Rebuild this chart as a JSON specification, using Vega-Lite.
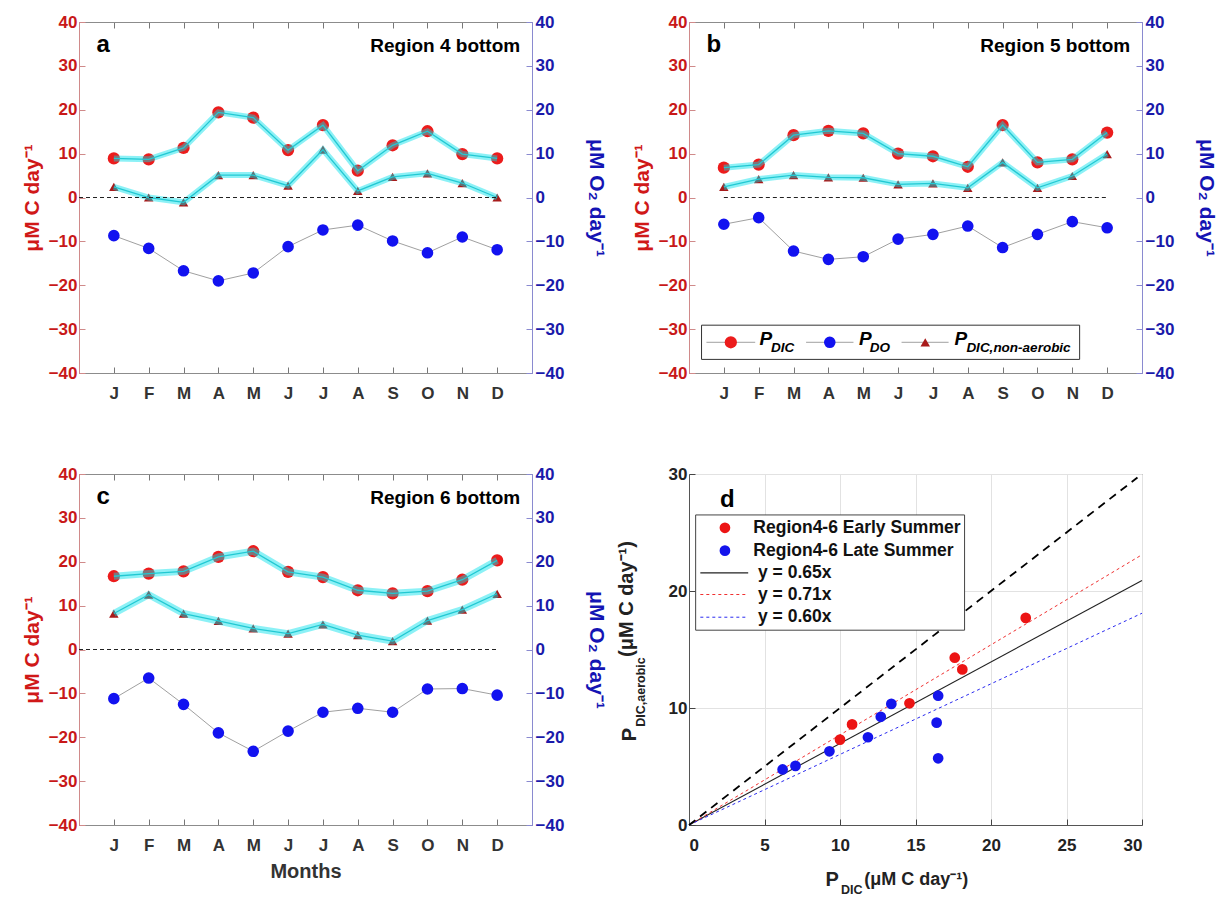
{
  "$schema": "https://vega.github.io/schema/vega-lite/v6.json",
  "background": "white",
  "padding": {"left": 20, "top": 12, "right": 5, "bottom": 5},
  "config": {
    "font": "Liberation Sans",
    "view": {"stroke": "#8c8c8c", "strokeWidth": 1},
    "axis": {"grid": false, "labelFont": "Liberation Sans", "titleFont": "Liberation Sans", "labelFontWeight": "bold", "titleFontWeight": "bold"}
  },
  "datasets": {
    "pa": [
      {"month": 1, "pdic": 8.9, "pdo": -8.7, "pna": 2.4},
      {"month": 2, "pdic": 8.7, "pdo": -11.6, "pna": 0.0},
      {"month": 3, "pdic": 11.3, "pdo": -16.7, "pna": -1.1},
      {"month": 4, "pdic": 19.4, "pdo": -19.0, "pna": 5.1},
      {"month": 5, "pdic": 18.2, "pdo": -17.2, "pna": 5.1},
      {"month": 6, "pdic": 10.8, "pdo": -11.2, "pna": 2.7},
      {"month": 7, "pdic": 16.5, "pdo": -7.4, "pna": 10.9},
      {"month": 8, "pdic": 6.1, "pdo": -6.3, "pna": 1.5},
      {"month": 9, "pdic": 11.9, "pdo": -9.9, "pna": 4.7},
      {"month": 10, "pdic": 15.1, "pdo": -12.6, "pna": 5.5},
      {"month": 11, "pdic": 9.9, "pdo": -9.0, "pna": 3.3},
      {"month": 12, "pdic": 8.9, "pdo": -11.9, "pna": 0.0}
    ],
    "pb": [
      {"month": 1, "pdic": 6.8, "pdo": -6.1, "pna": 2.4},
      {"month": 2, "pdic": 7.5, "pdo": -4.6, "pna": 4.2},
      {"month": 3, "pdic": 14.2, "pdo": -12.2, "pna": 5.1},
      {"month": 4, "pdic": 15.2, "pdo": -14.1, "pna": 4.6},
      {"month": 5, "pdic": 14.6, "pdo": -13.5, "pna": 4.5},
      {"month": 6, "pdic": 10.0, "pdo": -9.5, "pna": 3.0},
      {"month": 7, "pdic": 9.4, "pdo": -8.4, "pna": 3.2},
      {"month": 8, "pdic": 7.0, "pdo": -6.5, "pna": 2.2},
      {"month": 9, "pdic": 16.5, "pdo": -11.4, "pna": 8.0},
      {"month": 10, "pdic": 8.0, "pdo": -8.4, "pna": 2.2},
      {"month": 11, "pdic": 8.7, "pdo": -5.5, "pna": 4.9},
      {"month": 12, "pdic": 14.8, "pdo": -6.9, "pna": 9.9}
    ],
    "pc": [
      {"month": 1, "pdic": 16.7, "pdo": -11.2, "pna": 8.2},
      {"month": 2, "pdic": 17.3, "pdo": -6.5, "pna": 12.5},
      {"month": 3, "pdic": 17.8, "pdo": -12.5, "pna": 8.2},
      {"month": 4, "pdic": 21.1, "pdo": -19.0, "pna": 6.5},
      {"month": 5, "pdic": 22.4, "pdo": -23.2, "pna": 4.8},
      {"month": 6, "pdic": 17.7, "pdo": -18.6, "pna": 3.6},
      {"month": 7, "pdic": 16.5, "pdo": -14.3, "pna": 5.7},
      {"month": 8, "pdic": 13.5, "pdo": -13.4, "pna": 3.3},
      {"month": 9, "pdic": 12.8, "pdo": -14.3, "pna": 1.9},
      {"month": 10, "pdic": 13.3, "pdo": -9.0, "pna": 6.6},
      {"month": 11, "pdic": 15.9, "pdo": -8.9, "pna": 9.1},
      {"month": 12, "pdic": 20.3, "pdo": -10.4, "pna": 12.7}
    ],
    "scatter": [
      {"season": "Early", "pdic": 10.0, "paer": 7.3},
      {"season": "Early", "pdic": 10.8, "paer": 8.6},
      {"season": "Early", "pdic": 14.6, "paer": 10.4},
      {"season": "Early", "pdic": 17.6, "paer": 14.3},
      {"season": "Early", "pdic": 18.1, "paer": 13.3},
      {"season": "Early", "pdic": 22.3, "paer": 17.7},
      {"season": "Late", "pdic": 6.2, "paer": 4.75},
      {"season": "Late", "pdic": 7.05, "paer": 5.05},
      {"season": "Late", "pdic": 9.3, "paer": 6.3},
      {"season": "Late", "pdic": 11.85, "paer": 7.5},
      {"season": "Late", "pdic": 12.7, "paer": 9.25},
      {"season": "Late", "pdic": 13.4, "paer": 10.35},
      {"season": "Late", "pdic": 16.5, "paer": 11.05},
      {"season": "Late", "pdic": 16.4, "paer": 8.75},
      {"season": "Late", "pdic": 16.5, "paer": 5.7}
    ],
    "fits": [
      {"fit": "1:1", "x0": 0, "y0": 0, "x1": 29.7, "y1": 29.7},
      {"fit": "0.65", "x0": 0, "y0": 0, "x1": 30, "y1": 20.9},
      {"fit": "0.71", "x0": 0, "y0": 0, "x1": 30, "y1": 23.1},
      {"fit": "0.60", "x0": 0, "y0": 0, "x1": 30, "y1": 18.1}
    ]
  },
  "columns": 2,
  "spacing": {"row": 101, "column": 157},
  "bounds": "flush",
  "concat": [
    {
      "width": 453, "height": 351,
      "layer": [
        {
          "data": {"name": "pa"},
          "encoding": {"x": {"field": "month", "type": "quantitative", "scale": {"domain": [0, 13], "nice": false, "zero": false},
            "axis": {"orient": "bottom", "values": [1,2,3,4,5,6,7,8,9,10,11,12], "labelExpr": "['','J','F','M','A','M','J','J','A','S','O','N','D'][datum.value]", "title": null, "tickSize": -6, "tickColor": "#777", "domainColor": "#8c8c8c", "labelColor": "#333", "labelFontSize": 17, "labelPadding": 18}}},
          "layer": [
            {"mark": {"type": "line", "color": "#a0a0a0", "strokeWidth": 1},
             "encoding": {"y": {"field": "pdo", "type": "quantitative", "scale": {"domain": [-40, 40], "nice": false, "zero": false},
               "axis": {"orient": "left", "values": [-40,-30,-20,-10,0,10,20,30,40], "title": "μM C day⁻¹", "titleColor": "#d01818", "titleFontSize": 21, "titlePadding": 6, "labelColor": "#c81818", "labelFontSize": 17, "labelPadding": 8, "tickSize": -6, "tickColor": "#d08a8a", "domainColor": "#d08a8a"}}}},
            {"mark": {"type": "point", "filled": true, "opacity": 1, "size": 135, "color": "#1212f0"}, "encoding": {"y": {"field": "pdo", "type": "quantitative"}}},
            {"mark": {"type": "point", "filled": true, "opacity": 1, "size": 150, "color": "#ec1c1c"}, "encoding": {"y": {"field": "pdic", "type": "quantitative"}}},
            {"mark": {"type": "point", "shape": "triangle-up", "filled": true, "opacity": 1, "size": 90, "color": "#a81a1a"}, "encoding": {"y": {"field": "pna", "type": "quantitative"}}},
            {"mark": {"type": "line", "color": "#00e0ea", "strokeWidth": 6, "opacity": 0.45}, "encoding": {"y": {"field": "pdic", "type": "quantitative"}}},
            {"mark": {"type": "line", "color": "#22c8d2", "strokeWidth": 1.3}, "encoding": {"y": {"field": "pdic", "type": "quantitative"}}},
            {"mark": {"type": "line", "color": "#00e0ea", "strokeWidth": 6, "opacity": 0.45}, "encoding": {"y": {"field": "pna", "type": "quantitative"}}},
            {"mark": {"type": "line", "color": "#22c8d2", "strokeWidth": 1.3}, "encoding": {"y": {"field": "pna", "type": "quantitative"}}}
          ]
        },
        {
          "data": {"values": [{}]},
          "mark": {"type": "rule", "color": "#222", "strokeDash": [4, 3], "strokeWidth": 1},
          "encoding": {
            "x": {"datum": 0, "type": "quantitative", "axis": {"orient": "top", "values": [1,2,3,4,5,6,7,8,9,10,11,12], "labels": false, "title": null, "tickSize": -6, "tickColor": "#777", "domainColor": "#8c8c8c"}},
            "x2": {"datum": 12},
            "y": {"datum": 0, "type": "quantitative", "axis": {"orient": "right", "values": [-40,-30,-20,-10,0,10,20,30,40], "title": "μM O₂ day⁻¹", "titleColor": "#1414b4", "titleFontSize": 21, "titlePadding": 22, "labelColor": "#1a1aaa", "labelFontSize": 17, "labelPadding": 9, "tickSize": -6, "tickColor": "#8a8ad0", "domainColor": "#8a8ad0"}}
          }
        },
        {"data": {"values": [{}]}, "mark": {"type": "text", "align": "left", "baseline": "alphabetic", "fontSize": 24, "fontWeight": "bold", "color": "#000"},
         "encoding": {"x": {"datum": 0.5, "type": "quantitative", "axis": null}, "y": {"datum": 33.1, "type": "quantitative", "axis": null}, "text": {"value": "a"}}},
        {"data": {"values": [{}]}, "mark": {"type": "text", "align": "right", "baseline": "alphabetic", "fontSize": 19, "fontWeight": "bold", "color": "#000"},
         "encoding": {"x": {"datum": 12.66, "type": "quantitative", "axis": null}, "y": {"datum": 33.1, "type": "quantitative", "axis": null}, "text": {"value": "Region 4 bottom"}}}
      ],
      "resolve": {"axis": {"x": "independent", "y": "independent"}}
    },
    {
      "width": 453, "height": 351,
      "layer": [
        {
          "data": {"name": "pb"},
          "encoding": {"x": {"field": "month", "type": "quantitative", "scale": {"domain": [0, 13], "nice": false, "zero": false},
            "axis": {"orient": "bottom", "values": [1,2,3,4,5,6,7,8,9,10,11,12], "labelExpr": "['','J','F','M','A','M','J','J','A','S','O','N','D'][datum.value]", "title": null, "tickSize": -6, "tickColor": "#777", "domainColor": "#8c8c8c", "labelColor": "#333", "labelFontSize": 17, "labelPadding": 18}}},
          "layer": [
            {"mark": {"type": "line", "color": "#a0a0a0", "strokeWidth": 1},
             "encoding": {"y": {"field": "pdo", "type": "quantitative", "scale": {"domain": [-40, 40], "nice": false, "zero": false},
               "axis": {"orient": "left", "values": [-40,-30,-20,-10,0,10,20,30,40], "title": "μM C day⁻¹", "titleColor": "#d01818", "titleFontSize": 21, "titlePadding": 6, "labelColor": "#c81818", "labelFontSize": 17, "labelPadding": 8, "tickSize": -6, "tickColor": "#d08a8a", "domainColor": "#d08a8a"}}}},
            {"mark": {"type": "point", "filled": true, "opacity": 1, "size": 135, "color": "#1212f0"}, "encoding": {"y": {"field": "pdo", "type": "quantitative"}}},
            {"mark": {"type": "point", "filled": true, "opacity": 1, "size": 150, "color": "#ec1c1c"}, "encoding": {"y": {"field": "pdic", "type": "quantitative"}}},
            {"mark": {"type": "point", "shape": "triangle-up", "filled": true, "opacity": 1, "size": 90, "color": "#a81a1a"}, "encoding": {"y": {"field": "pna", "type": "quantitative"}}},
            {"mark": {"type": "line", "color": "#00e0ea", "strokeWidth": 6, "opacity": 0.45}, "encoding": {"y": {"field": "pdic", "type": "quantitative"}}},
            {"mark": {"type": "line", "color": "#22c8d2", "strokeWidth": 1.3}, "encoding": {"y": {"field": "pdic", "type": "quantitative"}}},
            {"mark": {"type": "line", "color": "#00e0ea", "strokeWidth": 6, "opacity": 0.45}, "encoding": {"y": {"field": "pna", "type": "quantitative"}}},
            {"mark": {"type": "line", "color": "#22c8d2", "strokeWidth": 1.3}, "encoding": {"y": {"field": "pna", "type": "quantitative"}}}
          ]
        },
        {
          "data": {"values": [{}]},
          "mark": {"type": "rule", "color": "#222", "strokeDash": [4, 3], "strokeWidth": 1},
          "encoding": {
            "x": {"datum": 1, "type": "quantitative", "axis": {"orient": "top", "values": [1,2,3,4,5,6,7,8,9,10,11,12], "labels": false, "title": null, "tickSize": -6, "tickColor": "#777", "domainColor": "#8c8c8c"}},
            "x2": {"datum": 12},
            "y": {"datum": 0, "type": "quantitative", "axis": {"orient": "right", "values": [-40,-30,-20,-10,0,10,20,30,40], "title": "μM O₂ day⁻¹", "titleColor": "#1414b4", "titleFontSize": 21, "titlePadding": 22, "labelColor": "#1a1aaa", "labelFontSize": 17, "labelPadding": 9, "tickSize": -6, "tickColor": "#8a8ad0", "domainColor": "#8a8ad0"}}
          }
        },
        {"data": {"values": [{}]}, "mark": {"type": "text", "align": "left", "baseline": "alphabetic", "fontSize": 24, "fontWeight": "bold", "color": "#000"},
         "encoding": {"x": {"datum": 0.5, "type": "quantitative", "axis": null}, "y": {"datum": 33.1, "type": "quantitative", "axis": null}, "text": {"value": "b"}}},
        {"data": {"values": [{}]}, "mark": {"type": "text", "align": "right", "baseline": "alphabetic", "fontSize": 19, "fontWeight": "bold", "color": "#000"},
         "encoding": {"x": {"datum": 12.66, "type": "quantitative", "axis": null}, "y": {"datum": 33.1, "type": "quantitative", "axis": null}, "text": {"value": "Region 5 bottom"}}},
        {"data": {"values": [{}]}, "mark": {"type": "rect", "fill": "white", "stroke": "#333", "strokeWidth": 1},
         "encoding": {"x": {"datum": 0.36, "type": "quantitative", "axis": null}, "x2": {"datum": 11.21}, "y": {"datum": -29.1, "type": "quantitative", "axis": null}, "y2": {"datum": -36.9}}},
        {"data": {"values": [{}]}, "mark": {"type": "rule", "color": "#a0a0a0", "strokeWidth": 1},
         "encoding": {"x": {"datum": 0.5, "type": "quantitative", "axis": null}, "x2": {"datum": 1.9}, "y": {"datum": -33, "type": "quantitative", "axis": null}}},
        {"data": {"values": [{}]}, "mark": {"type": "rule", "color": "#a0a0a0", "strokeWidth": 1},
         "encoding": {"x": {"datum": 3.36, "type": "quantitative", "axis": null}, "x2": {"datum": 4.72}, "y": {"datum": -33, "type": "quantitative", "axis": null}}},
        {"data": {"values": [{}]}, "mark": {"type": "rule", "color": "#a0a0a0", "strokeWidth": 1},
         "encoding": {"x": {"datum": 6.1, "type": "quantitative", "axis": null}, "x2": {"datum": 7.45}, "y": {"datum": -33, "type": "quantitative", "axis": null}}},
        {"data": {"values": [{}]}, "mark": {"type": "point", "filled": true, "opacity": 1, "size": 150, "color": "#ec1c1c"},
         "encoding": {"x": {"datum": 1.2, "type": "quantitative", "axis": null}, "y": {"datum": -33, "type": "quantitative", "axis": null}}},
        {"data": {"values": [{}]}, "mark": {"type": "point", "filled": true, "opacity": 1, "size": 135, "color": "#1212f0"},
         "encoding": {"x": {"datum": 4.04, "type": "quantitative", "axis": null}, "y": {"datum": -33, "type": "quantitative", "axis": null}}},
        {"data": {"values": [{}]}, "mark": {"type": "point", "shape": "triangle-up", "filled": true, "opacity": 1, "size": 90, "color": "#a81a1a"},
         "encoding": {"x": {"datum": 6.78, "type": "quantitative", "axis": null}, "y": {"datum": -33, "type": "quantitative", "axis": null}}},
        {"data": {"values": [{}]}, "mark": {"type": "text", "align": "left", "baseline": "middle", "fontSize": 19, "fontWeight": "bold", "fontStyle": "italic", "color": "#000"},
         "encoding": {"x": {"datum": 2.02, "type": "quantitative", "axis": null}, "y": {"datum": -32.3, "type": "quantitative", "axis": null}, "text": {"value": "P"}}},
        {"data": {"values": [{}]}, "mark": {"type": "text", "align": "left", "baseline": "middle", "fontSize": 13.5, "fontWeight": "bold", "fontStyle": "italic", "color": "#000"},
         "encoding": {"x": {"datum": 2.35, "type": "quantitative", "axis": null}, "y": {"datum": -34.4, "type": "quantitative", "axis": null}, "text": {"value": "DIC"}}},
        {"data": {"values": [{}]}, "mark": {"type": "text", "align": "left", "baseline": "middle", "fontSize": 19, "fontWeight": "bold", "fontStyle": "italic", "color": "#000"},
         "encoding": {"x": {"datum": 4.88, "type": "quantitative", "axis": null}, "y": {"datum": -32.3, "type": "quantitative", "axis": null}, "text": {"value": "P"}}},
        {"data": {"values": [{}]}, "mark": {"type": "text", "align": "left", "baseline": "middle", "fontSize": 13.5, "fontWeight": "bold", "fontStyle": "italic", "color": "#000"},
         "encoding": {"x": {"datum": 5.19, "type": "quantitative", "axis": null}, "y": {"datum": -34.4, "type": "quantitative", "axis": null}, "text": {"value": "DO"}}},
        {"data": {"values": [{}]}, "mark": {"type": "text", "align": "left", "baseline": "middle", "fontSize": 19, "fontWeight": "bold", "fontStyle": "italic", "color": "#000"},
         "encoding": {"x": {"datum": 7.62, "type": "quantitative", "axis": null}, "y": {"datum": -32.3, "type": "quantitative", "axis": null}, "text": {"value": "P"}}},
        {"data": {"values": [{}]}, "mark": {"type": "text", "align": "left", "baseline": "middle", "fontSize": 13.5, "fontWeight": "bold", "fontStyle": "italic", "color": "#000"},
         "encoding": {"x": {"datum": 7.96, "type": "quantitative", "axis": null}, "y": {"datum": -34.4, "type": "quantitative", "axis": null}, "text": {"value": "DIC,non-aerobic"}}}
      ],
      "resolve": {"axis": {"x": "independent", "y": "independent"}}
    },
    {
      "width": 453, "height": 351,
      "layer": [
        {
          "data": {"name": "pc"},
          "encoding": {"x": {"field": "month", "type": "quantitative", "scale": {"domain": [0, 13], "nice": false, "zero": false},
            "axis": {"orient": "bottom", "values": [1,2,3,4,5,6,7,8,9,10,11,12], "labelExpr": "['','J','F','M','A','M','J','J','A','S','O','N','D'][datum.value]", "title": "Months", "titleColor": "#333", "titleFontSize": 20, "titlePadding": 8, "tickSize": -6, "tickColor": "#777", "domainColor": "#8c8c8c", "labelColor": "#333", "labelFontSize": 17, "labelPadding": 18}}},
          "layer": [
            {"mark": {"type": "line", "color": "#a0a0a0", "strokeWidth": 1},
             "encoding": {"y": {"field": "pdo", "type": "quantitative", "scale": {"domain": [-40, 40], "nice": false, "zero": false},
               "axis": {"orient": "left", "values": [-40,-30,-20,-10,0,10,20,30,40], "title": "μM C day⁻¹", "titleColor": "#d01818", "titleFontSize": 21, "titlePadding": 6, "labelColor": "#c81818", "labelFontSize": 17, "labelPadding": 8, "tickSize": -6, "tickColor": "#d08a8a", "domainColor": "#d08a8a"}}}},
            {"mark": {"type": "point", "filled": true, "opacity": 1, "size": 135, "color": "#1212f0"}, "encoding": {"y": {"field": "pdo", "type": "quantitative"}}},
            {"mark": {"type": "point", "filled": true, "opacity": 1, "size": 150, "color": "#ec1c1c"}, "encoding": {"y": {"field": "pdic", "type": "quantitative"}}},
            {"mark": {"type": "point", "shape": "triangle-up", "filled": true, "opacity": 1, "size": 90, "color": "#a81a1a"}, "encoding": {"y": {"field": "pna", "type": "quantitative"}}},
            {"mark": {"type": "line", "color": "#00e0ea", "strokeWidth": 7, "opacity": 0.45}, "encoding": {"y": {"field": "pdic", "type": "quantitative"}}},
            {"mark": {"type": "line", "color": "#22c8d2", "strokeWidth": 1.3}, "encoding": {"y": {"field": "pdic", "type": "quantitative"}}},
            {"mark": {"type": "line", "color": "#00e0ea", "strokeWidth": 7, "opacity": 0.45}, "encoding": {"y": {"field": "pna", "type": "quantitative"}}},
            {"mark": {"type": "line", "color": "#22c8d2", "strokeWidth": 1.3}, "encoding": {"y": {"field": "pna", "type": "quantitative"}}}
          ]
        },
        {
          "data": {"values": [{}]},
          "mark": {"type": "rule", "color": "#222", "strokeDash": [4, 3], "strokeWidth": 1},
          "encoding": {
            "x": {"datum": 0, "type": "quantitative", "axis": {"orient": "top", "values": [1,2,3,4,5,6,7,8,9,10,11,12], "labels": false, "title": null, "tickSize": -6, "tickColor": "#777", "domainColor": "#8c8c8c"}},
            "x2": {"datum": 12},
            "y": {"datum": 0, "type": "quantitative", "axis": {"orient": "right", "values": [-40,-30,-20,-10,0,10,20,30,40], "title": "μM O₂ day⁻¹", "titleColor": "#1414b4", "titleFontSize": 21, "titlePadding": 22, "labelColor": "#1a1aaa", "labelFontSize": 17, "labelPadding": 9, "tickSize": -6, "tickColor": "#8a8ad0", "domainColor": "#8a8ad0"}}
          }
        },
        {"data": {"values": [{}]}, "mark": {"type": "text", "align": "left", "baseline": "alphabetic", "fontSize": 24, "fontWeight": "bold", "color": "#000"},
         "encoding": {"x": {"datum": 0.5, "type": "quantitative", "axis": null}, "y": {"datum": 33.1, "type": "quantitative", "axis": null}, "text": {"value": "c"}}},
        {"data": {"values": [{}]}, "mark": {"type": "text", "align": "right", "baseline": "alphabetic", "fontSize": 19, "fontWeight": "bold", "color": "#000"},
         "encoding": {"x": {"datum": 12.66, "type": "quantitative", "axis": null}, "y": {"datum": 33.1, "type": "quantitative", "axis": null}, "text": {"value": "Region 6 bottom"}}}
      ],
      "resolve": {"axis": {"x": "independent", "y": "independent"}}
    },
    {
      "width": 453, "height": 351,
      "view": {"stroke": "#555", "strokeWidth": 1},
      "layer": [
        {"data": {"name": "fits"}, "transform": [{"filter": "datum.fit === '0.65'"}],
         "mark": {"type": "rule", "color": "#222", "strokeWidth": 1.1},
         "encoding": {
           "x": {"field": "x0", "type": "quantitative", "scale": {"domain": [0, 30], "nice": false},
             "axis": {"values": [0,5,10,15,20,25,30], "title": null, "grid": true, "gridColor": "#e2e2e2", "tickSize": -6, "tickColor": "#444", "domainColor": "#555", "labelColor": "#222", "labelFontSize": 17, "labelPadding": 18}},
           "y": {"field": "y0", "type": "quantitative", "scale": {"domain": [0, 30], "nice": false},
             "axis": {"values": [0,10,20,30], "title": null, "grid": true, "gridColor": "#e2e2e2", "tickSize": -6, "tickColor": "#444", "domainColor": "#555", "labelColor": "#222", "labelFontSize": 17, "labelPadding": 8}},
           "x2": {"field": "x1"}, "y2": {"field": "y1"}}},
        {"data": {"name": "fits"}, "transform": [{"filter": "datum.fit === '0.71'"}],
         "mark": {"type": "rule", "color": "#f03030", "strokeWidth": 1, "strokeDash": [3, 3]},
         "encoding": {"x": {"field": "x0", "type": "quantitative"}, "y": {"field": "y0", "type": "quantitative"}, "x2": {"field": "x1"}, "y2": {"field": "y1"}}},
        {"data": {"name": "fits"}, "transform": [{"filter": "datum.fit === '0.60'"}],
         "mark": {"type": "rule", "color": "#2a2af0", "strokeWidth": 1, "strokeDash": [3, 3]},
         "encoding": {"x": {"field": "x0", "type": "quantitative"}, "y": {"field": "y0", "type": "quantitative"}, "x2": {"field": "x1"}, "y2": {"field": "y1"}}},
        {"data": {"name": "fits"}, "transform": [{"filter": "datum.fit === '1:1'"}],
         "mark": {"type": "rule", "color": "#000", "strokeWidth": 1.8, "strokeDash": [8, 6]},
         "encoding": {"x": {"field": "x0", "type": "quantitative"}, "y": {"field": "y0", "type": "quantitative"}, "x2": {"field": "x1"}, "y2": {"field": "y1"}}},
        {"data": {"name": "scatter"},
         "mark": {"type": "point", "filled": true, "opacity": 1, "size": 115},
         "encoding": {"x": {"field": "pdic", "type": "quantitative"}, "y": {"field": "paer", "type": "quantitative"},
           "color": {"field": "season", "type": "nominal", "scale": {"domain": ["Early", "Late"], "range": ["#ec1414", "#1414ec"]}, "legend": null}}},
        {"data": {"values": [{}]}, "mark": {"type": "rect", "fill": "white", "stroke": "#444", "strokeWidth": 1},
         "encoding": {"x": {"datum": 0.44}, "x2": {"datum": 18.25}, "y": {"datum": 16.65}, "y2": {"datum": 26.5}}},
        {"data": {"values": [{}]}, "mark": {"type": "point", "filled": true, "opacity": 1, "size": 115, "color": "#ec1414"},
         "encoding": {"x": {"datum": 2.38}, "y": {"datum": 25.4}}},
        {"data": {"values": [{}]}, "mark": {"type": "point", "filled": true, "opacity": 1, "size": 115, "color": "#1414ec"},
         "encoding": {"x": {"datum": 2.38}, "y": {"datum": 23.45}}},
        {"data": {"values": [{}]}, "mark": {"type": "rule", "color": "#222", "strokeWidth": 1.1},
         "encoding": {"x": {"datum": 0.75}, "x2": {"datum": 3.92}, "y": {"datum": 21.55}}},
        {"data": {"values": [{}]}, "mark": {"type": "rule", "color": "#f03030", "strokeWidth": 1, "strokeDash": [3, 3]},
         "encoding": {"x": {"datum": 0.75}, "x2": {"datum": 3.92}, "y": {"datum": 19.7}}},
        {"data": {"values": [{}]}, "mark": {"type": "rule", "color": "#2a2af0", "strokeWidth": 1, "strokeDash": [3, 3]},
         "encoding": {"x": {"datum": 0.75}, "x2": {"datum": 3.92}, "y": {"datum": 17.76}}},
        {"data": {"values": [{}]}, "mark": {"type": "text", "align": "left", "baseline": "middle", "fontSize": 17.5, "fontWeight": "bold", "color": "#111"},
         "encoding": {"x": {"datum": 4.26}, "y": {"datum": 25.4}, "text": {"value": "Region4-6 Early Summer"}}},
        {"data": {"values": [{}]}, "mark": {"type": "text", "align": "left", "baseline": "middle", "fontSize": 17.5, "fontWeight": "bold", "color": "#111"},
         "encoding": {"x": {"datum": 4.26}, "y": {"datum": 23.45}, "text": {"value": "Region4-6 Late  Summer"}}},
        {"data": {"values": [{}]}, "mark": {"type": "text", "align": "left", "baseline": "middle", "fontSize": 17.5, "fontWeight": "bold", "color": "#111"},
         "encoding": {"x": {"datum": 4.57}, "y": {"datum": 21.55}, "text": {"value": "y = 0.65x"}}},
        {"data": {"values": [{}]}, "mark": {"type": "text", "align": "left", "baseline": "middle", "fontSize": 17.5, "fontWeight": "bold", "color": "#111"},
         "encoding": {"x": {"datum": 4.57}, "y": {"datum": 19.7}, "text": {"value": "y = 0.71x"}}},
        {"data": {"values": [{}]}, "mark": {"type": "text", "align": "left", "baseline": "middle", "fontSize": 17.5, "fontWeight": "bold", "color": "#111"},
         "encoding": {"x": {"datum": 4.57}, "y": {"datum": 17.76}, "text": {"value": "y = 0.60x"}}},
        {"data": {"values": [{}]}, "mark": {"type": "text", "align": "left", "baseline": "alphabetic", "fontSize": 24, "fontWeight": "bold", "color": "#000"},
         "encoding": {"x": {"datum": 2.05}, "y": {"datum": 27.2}, "text": {"value": "d"}}},
        {"data": {"values": [{}]}, "mark": {"type": "text", "align": "right", "baseline": "middle", "fontSize": 20, "fontWeight": "bold", "color": "#222"},
         "encoding": {"x": {"datum": 9.93}, "y": {"datum": -4.7}, "text": {"value": "P"}}},
        {"data": {"values": [{}]}, "mark": {"type": "text", "align": "left", "baseline": "middle", "fontSize": 12.5, "fontWeight": "bold", "color": "#222", "dx": 2, "dy": 10},
         "encoding": {"x": {"datum": 9.93}, "y": {"datum": -4.7}, "text": {"value": "DIC"}}},
        {"data": {"values": [{}]}, "mark": {"type": "text", "align": "left", "baseline": "middle", "fontSize": 18, "fontWeight": "bold", "color": "#222"},
         "encoding": {"x": {"datum": 11.6}, "y": {"datum": -4.7}, "text": {"value": "(μM C day⁻¹)"}}},
        {"data": {"values": [{}]}, "mark": {"type": "text", "align": "right", "baseline": "middle", "fontSize": 20, "fontWeight": "bold", "color": "#222", "angle": 270},
         "encoding": {"x": {"datum": -3.9}, "y": {"datum": 8.3}, "text": {"value": "P"}}},
        {"data": {"values": [{}]}, "mark": {"type": "text", "align": "left", "baseline": "middle", "fontSize": 12.5, "fontWeight": "bold", "color": "#222", "angle": 270, "dy": 11},
         "encoding": {"x": {"datum": -3.9}, "y": {"datum": 8.4}, "text": {"value": "DIC,aerobic"}}},
        {"data": {"values": [{}]}, "mark": {"type": "text", "align": "left", "baseline": "middle", "fontSize": 20, "fontWeight": "bold", "color": "#222", "angle": 270},
         "encoding": {"x": {"datum": -4.1}, "y": {"datum": 14.36}, "text": {"value": "(μM C day⁻¹)"}}}
      ]
    }
  ]
}
